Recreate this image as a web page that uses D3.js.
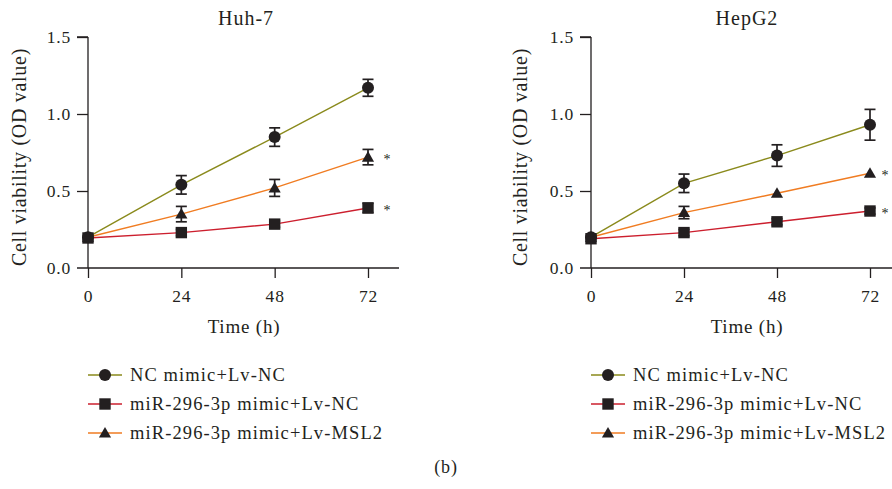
<!DOCTYPE html>
<html><head><meta charset="utf-8">
<script src="https://cdn.jsdelivr.net/npm/d3@7"></script>
<style>
html,body{margin:0;padding:0;background:#fff;}
svg text{font-family:"Liberation Serif","Times New Roman",serif;fill:#231f20;}
</style></head>
<body><svg id="c" width="892" height="489"></svg>
<script>
const times = [0, 24, 48, 72];
const yTicks = [0.0, 0.5, 1.0, 1.5];
const seriesNames = ["NC mimic+Lv-NC", "miR-296-3p mimic+Lv-NC", "miR-296-3p mimic+Lv-MSL2"];
const seriesColors = ["#8a8a1c", "#cc1f2e", "#f07c22"];
const seriesShapes = ["circle", "square", "triangle"];
const panelTitles = ["Huh-7", "HepG2"];

// Huh-7
const huhNC      = [0.20, 0.54, 0.85, 1.17];
const huhNCerr   = [0.01, 0.06, 0.06, 0.055];
const huhMiR     = [0.195, 0.23, 0.285, 0.39];
const huhMiRerr  = [0.01, 0.02, 0.02, 0.03];
const huhMSL2    = [0.20, 0.35, 0.52, 0.72];
const huhMSL2err = [0.01, 0.05, 0.055, 0.05];
const huhStars   = [false, true, true];
// HepG2
const hepNC      = [0.20, 0.55, 0.73, 0.93];
const hepNCerr   = [0.01, 0.06, 0.07, 0.10];
const hepMiR     = [0.19, 0.23, 0.30, 0.37];
const hepMiRerr  = [0.01, 0.02, 0.02, 0.02];
const hepMSL2    = [0.20, 0.36, 0.485, 0.615];
const hepMSL2err = [0.01, 0.04, 0.01, 0.01];
const hepStars   = [false, true, true];

const panels = [
  {title: panelTitles[0], x0: 88, x72: 368, axisEnd: 399, vals:[huhNC,huhMiR,huhMSL2], errs:[huhNCerr,huhMiRerr,huhMSL2err], stars:huhStars, ylabX:20, titleX:246, xlabX:244, legX:88, starX:387},
  {title: panelTitles[1], x0: 591, x72: 870, axisEnd: 900, vals:[hepNC,hepMiR,hepMSL2], errs:[hepNCerr,hepMiRerr,hepMSL2err], stars:hepStars, ylabX:521, titleX:747, xlabX:747, legX:591, starX:885}
];

const svg = d3.select("#c");
const y = d3.scaleLinear().domain([0, 1.5]).range([268, 37]);
const axisColor = "#231f20";

function marker(g, shape, cx, cy){
  if(shape==="circle") g.append("circle").attr("cx",cx).attr("cy",cy).attr("r",6).attr("fill",axisColor);
  else if(shape==="square") g.append("rect").attr("x",cx-5.7).attr("y",cy-5.7).attr("width",11.4).attr("height",11.4).attr("fill",axisColor);
  else {
    const s = d3.symbol().type(d3.symbolTriangle).size(64);
    g.append("path").attr("d", s()).attr("transform",`translate(${cx},${cy+1})`).attr("fill",axisColor);
  }
}

panels.forEach(p=>{
  const x = d3.scaleLinear().domain([0,72]).range([p.x0, p.x72]);
  const g = svg.append("g");
  // y axis
  const ya = g.append("g").attr("transform",`translate(${p.x0},0)`)
    .call(d3.axisLeft(y).tickValues(yTicks).tickFormat(d3.format(".1f")).tickSize(11).tickPadding(6));
  ya.select(".domain").attr("d", `M0,${y(1.5)}H-11M0,${y(1.5)}V${y(0)}`);
  // x axis
  const xa = g.append("g").attr("transform",`translate(0,${y(0)})`)
    .call(d3.axisBottom(x).tickValues(times).tickSize(10).tickPadding(12));
  xa.select(".domain").attr("d", `M${p.x0-11},0H${p.axisEnd}`);
  [ya, xa].forEach(a=>{
    a.attr("font-family",'"Liberation Serif",serif');
    a.selectAll(".domain, .tick line").attr("stroke",axisColor).attr("stroke-width",1.3);
    a.selectAll(".tick text").attr("font-size",17.5).attr("fill",axisColor).attr("letter-spacing",0.8);
  });
  ya.selectAll(".tick").filter(d=>d===0).select("line").remove();
  // labels
  g.append("text").attr("x",p.titleX).attr("y",25).attr("text-anchor","middle").attr("font-size",20).attr("letter-spacing",1).text(p.title);
  g.append("text").attr("x",p.xlabX).attr("y",333).attr("text-anchor","middle").attr("font-size",19).attr("letter-spacing",0.8).text("Time (h)");
  g.append("text").attr("transform",`translate(${p.ylabX+6},157) rotate(-90)`).attr("text-anchor","middle").attr("font-size",20).attr("letter-spacing",0.7).text("Cell viability (OD value)");
  // lines
  const line = d3.line().x((d,i)=>x(times[i])).y(d=>y(d));
  p.vals.forEach((v,si)=>{
    g.append("path").datum(v).attr("d",line).attr("fill","none").attr("stroke",seriesColors[si]).attr("stroke-width",1.4);
  });
  // error bars + markers
  p.vals.forEach((v,si)=>{
    v.forEach((d,i)=>{
      const e = p.errs[si][i], cx = x(times[i]);
      if(e>0.012){
        const eg = g.append("g").attr("stroke",axisColor).attr("stroke-width",1.7);
        eg.append("line").attr("x1",cx).attr("x2",cx).attr("y1",y(d+e)).attr("y2",y(d-e));
        eg.append("line").attr("x1",cx-5.5).attr("x2",cx+5.5).attr("y1",y(d+e)).attr("y2",y(d+e));
        eg.append("line").attr("x1",cx-5.5).attr("x2",cx+5.5).attr("y1",y(d-e)).attr("y2",y(d-e));
      }
      marker(g, seriesShapes[si], cx, y(d));
    });
    if(p.stars[si]){
      g.append("text").attr("x",p.starX).attr("y",y(v[3])+7).attr("text-anchor","middle").attr("font-size",14).text("*");
    }
  });
  // legend
  seriesNames.forEach((n,si)=>{
    const ly = 375 + si*29;
    g.append("line").attr("x1",p.legX).attr("x2",p.legX+34).attr("y1",ly).attr("y2",ly).attr("stroke",seriesColors[si]).attr("stroke-width",2).attr("opacity",0.75);
    marker(g, seriesShapes[si], p.legX+17, ly);
    g.append("text").attr("x",p.legX+42).attr("y",ly+6).attr("font-size",18.5).attr("letter-spacing",1.1).text(n);
  });
});
svg.append("text").attr("x",446).attr("y",473).attr("text-anchor","middle").attr("font-size",18).attr("letter-spacing",0.8).text("(b)");
</script></body></html>
